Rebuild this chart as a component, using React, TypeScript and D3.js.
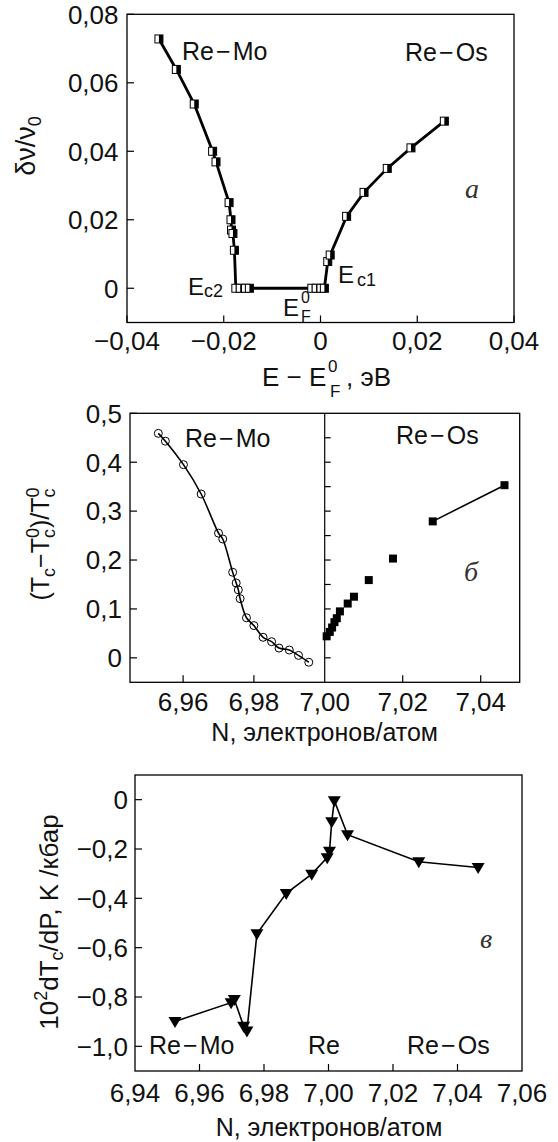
import React, { useRef, useEffect } from "react";
import * as d3 from "d3";

const SANS = "'Liberation Sans', Arial, Helvetica, sans-serif";
const SERIF = "'Liberation Serif', 'Times New Roman', serif";

// panel a: frequency shift vs energy
const energyShift = [
  -0.0334, -0.0298, -0.0261, -0.0223, -0.0216, -0.0189, -0.0185, -0.0184, -0.0181, -0.0178,
  -0.0175, -0.0166, -0.0155, -0.0147,
  -0.0018, -0.0009, 0.0001, 0.0008,
  0.0015, 0.002, 0.0054, 0.009, 0.0138, 0.0187, 0.0256
];
const freqShift = [
  0.0728, 0.0639, 0.0538, 0.04, 0.0369, 0.025, 0.02, 0.017, 0.016, 0.0111,
  0, 0, 0, 0,
  0, 0, 0, 0,
  0.0078, 0.0097, 0.021, 0.028, 0.035, 0.041, 0.0488
];
const energyTicks = [-0.04, -0.02, 0, 0.02, 0.04];
const freqTicks = [0, 0.02, 0.04, 0.06, 0.08];

// panel b: relative Tc vs electron count
const moElectrons = [
  6.953, 6.955, 6.9601, 6.9651, 6.97, 6.9712, 6.974, 6.975, 6.9756, 6.9761,
  6.9779, 6.98, 6.9826, 6.985, 6.9871, 6.99, 6.9926, 6.9955
];
const moTc = [
  0.459, 0.443, 0.395, 0.335, 0.255, 0.243, 0.175, 0.153, 0.139, 0.121,
  0.082, 0.066, 0.042, 0.033, 0.02, 0.016, 0.005, -0.009
];
const osElectrons = [
  7.0005, 7.0013, 7.0019, 7.0025, 7.0031, 7.0039, 7.0059, 7.0075, 7.0113, 7.0175, 7.0277, 7.0461
];
const osTc = [0.044, 0.053, 0.062, 0.073, 0.081, 0.095, 0.111, 0.125, 0.159, 0.203, 0.279, 0.353];
const tcTicks = [0, 0.1, 0.2, 0.3, 0.4, 0.5];
const tcMinorTicks = [0, 0.05, 0.1, 0.15, 0.2, 0.25, 0.3, 0.35, 0.4, 0.45];
const moTicks = [6.96, 6.98];
const osTicks = [7.02, 7.04];

// panel c: pressure derivative of Tc
const slopeElectrons = [
  6.9524, 6.9698, 6.9708, 6.9737, 6.9747, 6.9778, 6.9869, 6.9948, 6.9996, 7.0003,
  7.001, 7.0018, 7.0059, 7.028, 7.0464
];
const slopeValues = [
  -0.899, -0.823, -0.81, -0.919, -0.938, -0.544, -0.38, -0.302, -0.235, -0.209,
  -0.09, -0.004, -0.142, -0.252, -0.275
];
const slopeXTicks = [6.94, 6.96, 6.98, 7.0, 7.02, 7.04, 7.06];
const slopeYTicks = [0, -0.2, -0.4, -0.6, -0.8, -1.0];

const App = () => {
  const ref = useRef(null);

  useEffect(() => {
    const svg = d3.select(ref.current);
    svg.selectAll("*").remove();

    const loc = d3.formatLocale({
      decimal: ",",
      thousands: " ",
      grouping: [3],
      currency: ["", ""],
      minus: "\u2212"
    });
    const fmt = (spec) => (v) => (Math.abs(v) < 1e-9 ? "0" : loc.format(spec)(v));

    const frame = (x0, y0, x1, y1) =>
      svg
        .append("rect")
        .attr("x", x0)
        .attr("y", y0)
        .attr("width", x1 - x0)
        .attr("height", y1 - y0)
        .attr("fill", "none")
        .attr("stroke", "#000")
        .attr("stroke-width", 1.3);

    const tickLine = (x1, y1, x2, y2) =>
      svg
        .append("line")
        .attr("x1", x1)
        .attr("y1", y1)
        .attr("x2", x2)
        .attr("y2", y2)
        .attr("stroke", "#000")
        .attr("stroke-width", 1.2);

    const label = (x, y, txt, anchor = "middle", size = 26) =>
      svg
        .append("text")
        .attr("x", x)
        .attr("y", y)
        .attr("text-anchor", anchor)
        .attr("font-family", SANS)
        .attr("font-size", size)
        .attr("fill", "#111")
        .text(txt);

    const italic = (x, y, txt) =>
      svg
        .append("text")
        .attr("x", x)
        .attr("y", y)
        .attr("font-family", SERIF)
        .attr("font-style", "italic")
        .attr("font-size", 28)
        .attr("fill", "#333")
        .text(txt);

    // ---------- panel a ----------
    const xa = d3.scaleLinear().domain([-0.04, 0.04]).range([127, 514]);
    const ya = d3.scaleLinear().domain([-0.01, 0.08]).range([322.5, 14.3]);
    frame(127, 14.3, 514, 322.5);
    freqTicks.forEach((t) => {
      tickLine(127, ya(t), 134, ya(t));
      label(118.5, ya(t), fmt(".2f")(t), "end").attr("dy", "0.36em");
    });
    energyTicks.forEach((t) => {
      tickLine(xa(t), 322.5, xa(t), 315.5);
      label(xa(t), 350, fmt(".2f")(t));
    });

    const pa = energyShift.map((e, i) => [e, freqShift[i]]);
    svg
      .append("path")
      .attr("d", d3.line().x((d) => xa(d[0])).y((d) => ya(d[1]))(pa))
      .attr("fill", "none")
      .attr("stroke", "#000")
      .attr("stroke-width", 2.8);
    const ma = svg.append("g");
    pa.forEach((d) => {
      const cx = xa(d[0]);
      const cy = ya(d[1]);
      ma.append("rect")
        .attr("x", cx - 4)
        .attr("y", cy - 4)
        .attr("width", 8)
        .attr("height", 8)
        .attr("fill", "#fff")
        .attr("stroke", "#000")
        .attr("stroke-width", 1);
      ma.append("rect")
        .attr("x", cx)
        .attr("y", cy - 4)
        .attr("width", 4)
        .attr("height", 8)
        .attr("fill", "#000");
    });

    label(182, 60, "Re\u200a\u2212\u200aMo", "start", 25);
    label(405, 61, "Re\u200a\u2212\u200aOs", "start", 25);
    italic(465, 198, "a");

    const ec2 = label(188, 295, "E", "start", 24);
    ec2.append("tspan").attr("font-size", 18).attr("dy", 2).text("c2");
    const ec1 = label(338, 283, "E", "start", 24);
    ec1.append("tspan").attr("font-size", 18).attr("dx", 3).attr("dy", 3).text("c1");
    label(283, 316, "E", "start", 24);
    label(301, 303, "0", "start", 16);
    label(301, 322, "F", "start", 16);

    // axis titles a
    label(262, 386, "E \u2212 E", "start", 26);
    label(328, 372, "0", "start", 17);
    label(330, 397, "F", "start", 17);
    label(346, 386, ", \u044dВ", "start", 26);

    const ta = svg
      .append("text")
      .attr("transform", "translate(35,146) rotate(-90)")
      .attr("text-anchor", "middle")
      .attr("font-family", SANS)
      .attr("font-size", 27)
      .attr("fill", "#111")
      .text("\u03b4\u03bd/\u03bd");
    ta.append("tspan").attr("font-size", 18).attr("dy", 6).text("0");

    // ---------- panel b ----------
    const bLeft = 130;
    const bMid = 324.7;
    const bRight = 519.7;
    const bTop = 413.3;
    const bBottom = 682.3;
    const xbL = d3.scaleLinear().domain([6.945, 7.0]).range([bLeft, bMid]);
    const xbR = d3.scaleLinear().domain([7.0, 7.05]).range([bMid, bRight]);
    const yb = d3.scaleLinear().domain([-0.05, 0.5]).range([bBottom, bTop]);
    frame(bLeft, bTop, bRight, bBottom);
    tickLine(bMid, bTop, bMid, bBottom);
    tcTicks.forEach((t) => {
      tickLine(bLeft, yb(t), bLeft + 7, yb(t));
      label(122, yb(t), fmt(".1f")(t), "end").attr("dy", "0.36em");
    });
    tcMinorTicks.forEach((t) => tickLine(bMid, yb(t), bMid + 6, yb(t)));
    moTicks.forEach((t) => {
      tickLine(xbL(t), bBottom, xbL(t), bBottom - 7);
      label(xbL(t), 711, loc.format(".2f")(t));
    });
    label(bMid, 711, loc.format(".2f")(7.0));
    osTicks.forEach((t) => {
      tickLine(xbR(t), bBottom, xbR(t), bBottom - 7);
      label(xbR(t), 711, loc.format(".2f")(t));
    });
    label(bMid, 741, "N, электронов/атом", "middle", 25);

    const pMo = moElectrons.map((n, i) => [n, moTc[i]]);
    svg
      .append("path")
      .attr("d", d3.line().curve(d3.curveCatmullRom.alpha(0.5)).x((d) => xbL(d[0])).y((d) => yb(d[1]))(pMo))
      .attr("fill", "none")
      .attr("stroke", "#000")
      .attr("stroke-width", 1.6);
    svg
      .append("g")
      .selectAll("circle")
      .data(pMo)
      .enter()
      .append("circle")
      .attr("cx", (d) => xbL(d[0]))
      .attr("cy", (d) => yb(d[1]))
      .attr("r", 4)
      .attr("fill", "none")
      .attr("stroke", "#000")
      .attr("stroke-width", 1);

    const pOs = osElectrons.map((n, i) => [n, osTc[i]]);
    svg
      .append("path")
      .attr("d", d3.line().x((d) => xbR(d[0])).y((d) => yb(d[1]))(pOs.slice(-2)))
      .attr("fill", "none")
      .attr("stroke", "#000")
      .attr("stroke-width", 1.6);
    svg
      .append("g")
      .selectAll("rect")
      .data(pOs)
      .enter()
      .append("rect")
      .attr("x", (d) => xbR(d[0]) - 4)
      .attr("y", (d) => yb(d[1]) - 4)
      .attr("width", 8)
      .attr("height", 8)
      .attr("fill", "#000");

    label(185, 447, "Re\u200a\u2212\u200aMo", "start", 25);
    label(396, 444, "Re\u200a\u2212\u200aOs", "start", 25);
    italic(464, 581, "б");

    const tb = svg
      .append("text")
      .attr("transform", "translate(49,544) rotate(-90)")
      .attr("text-anchor", "middle")
      .attr("font-family", SANS)
      .attr("font-size", 25)
      .attr("fill", "#111")
      .text("(T");
    tb.append("tspan").attr("font-size", 18).attr("dy", 6).text("c");
    tb.append("tspan").attr("dy", -6).text("\u2212T");
    tb.append("tspan").attr("font-size", 18).attr("dy", 6).text("c");
    tb.append("tspan").attr("font-size", 18).attr("dx", -9).attr("dy", -16).text("0");
    tb.append("tspan").attr("dy", 10).text(")/T");
    tb.append("tspan").attr("font-size", 18).attr("dy", 6).text("c");
    tb.append("tspan").attr("font-size", 18).attr("dx", -9).attr("dy", -16).text("0");

    // ---------- panel c ----------
    const cLeft = 135;
    const cRight = 522;
    const cTop = 775;
    const cBottom = 1071;
    const xc = d3.scaleLinear().domain([6.94, 7.06]).range([cLeft, cRight]);
    const yc = d3.scaleLinear().domain([-1.1, 0.1]).range([cBottom, cTop]);
    frame(cLeft, cTop, cRight, cBottom);
    slopeYTicks.forEach((t) => {
      tickLine(cLeft, yc(t), cLeft + 7, yc(t));
      label(128, yc(t), fmt(".1f")(t), "end").attr("dy", "0.36em");
    });
    slopeXTicks.forEach((t, i) => {
      if (i > 0 && i < slopeXTicks.length - 1) tickLine(xc(t), cBottom, xc(t), cBottom - 7);
      label(xc(t), 1102, loc.format(".2f")(t));
    });
    label(329, 1136, "N, электронов/атом", "middle", 25);

    const pc = slopeElectrons.map((n, i) => [n, slopeValues[i]]);
    svg
      .append("path")
      .attr("d", d3.line().x((d) => xc(d[0])).y((d) => yc(d[1]))(pc))
      .attr("fill", "none")
      .attr("stroke", "#000")
      .attr("stroke-width", 1.6);
    svg
      .append("g")
      .selectAll("path")
      .data(pc)
      .enter()
      .append("path")
      .attr("transform", (d) => `translate(${xc(d[0])},${yc(d[1])})`)
      .attr("d", "M-6.5,-4.5L6.5,-4.5L0,6.5Z")
      .attr("fill", "#000");

    label(149, 1054, "Re\u200a\u2212\u200aMo", "start", 25);
    label(308, 1054, "Re", "start", 25);
    label(407, 1054, "Re\u200a\u2212\u200aOs", "start", 25);
    italic(480, 948, "в");

    const tc = svg
      .append("text")
      .attr("transform", "translate(58,922) rotate(-90)")
      .attr("text-anchor", "middle")
      .attr("font-family", SANS)
      .attr("font-size", 26)
      .attr("fill", "#111")
      .text("10");
    tc.append("tspan").attr("font-size", 18).attr("dy", -11).text("2");
    tc.append("tspan").attr("dy", 11).text("dT");
    tc.append("tspan").attr("font-size", 18).attr("dy", 5).text("c");
    tc.append("tspan").attr("dy", -5).text("/dP, K /кбар");
  }, []);

  return (
    <svg
      ref={ref}
      width={558}
      height={1142}
      style={{ position: "absolute", left: 0, top: 0, background: "#fff" }}
    />
  );
};

export default App;
